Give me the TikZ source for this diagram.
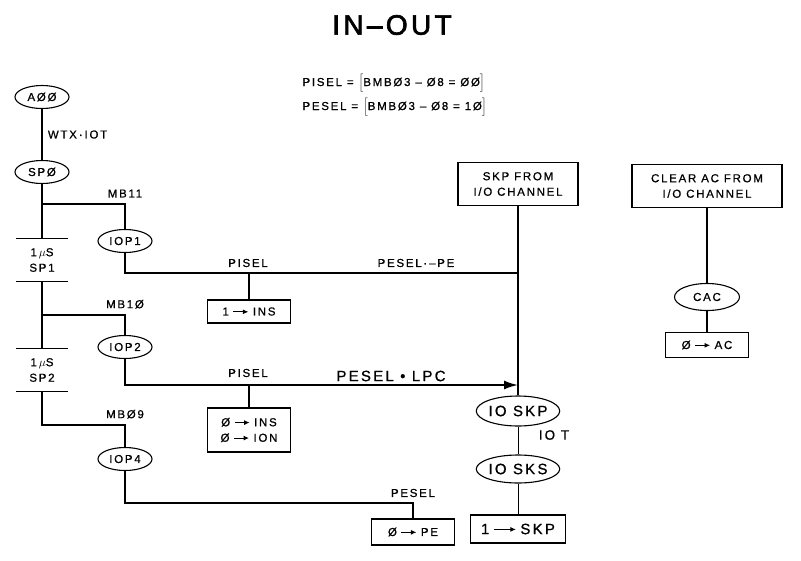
\documentclass[tikz,border=0pt]{standalone}
\usepackage{fontspec}
\setmainfont{Liberation Sans}[LetterSpace=15, FakeBold=0.8]
\usetikzlibrary{shapes.geometric,arrows.meta,positioning}
\newcommand{\toarrow}[1][15pt]{\hspace{4pt}\tikz[baseline=-0.6ex]\draw[-{Latex[length=5.5pt, width=5pt]}, line width=1pt] (0pt,0pt) -- (#1,0pt);\hspace{4pt}}

\begin{document}
\begin{tikzpicture}[x=1pt, y=-1pt,
    font=\fontsize{11.5}{15.5}\selectfont,
    wire/.style={line width=1.8pt},
    thinwire/.style={line width=1pt},
    oval/.style={draw, ellipse, line width=1.1pt, inner sep=0pt, minimum width=54pt, minimum height=23pt},
    opbox/.style={draw, line width=1.1pt, inner sep=0pt, align=center},
    delay/.style={minimum width=52pt, minimum height=43pt, inner sep=0pt, align=center},
    bigtext/.style={font=\fontsize{15}{18}\selectfont}]
    \useasboundingbox (0,0) rectangle (801,560);

    % title and select equations
    \node[font=\fontsize{28}{30}\selectfont\addfontfeature{LetterSpace=12, FakeBold=2.5}] (title) at (392,25) {IN–OUT};
    \node[anchor=west] (eqpisel) at (299,83) {PISEL = $\Bigl[$BMBØ3 – Ø8 = ØØ$\Bigr]$};
    \node[anchor=west] (eqpesel) at (299,107) {PESEL = $\Bigl[$BMBØ3 – Ø8 = 1Ø$\Bigr]$};

    % left column
    \node[oval] (a00) at (42,97) {AØØ};
    \node[oval] (sp0) at (42,172) {SPØ};
    \node[delay] (sp1) at (42,260) {1\,$\mu$S\\SP1};
    \node[delay] (sp2) at (42,370) {1\,$\mu$S\\SP2};
    \node[oval] (iop1) at (125,241) {IOP1};
    \node[oval] (iop2) at (125,347) {IOP2};
    \node[oval] (iop4) at (125,459) {IOP4};

    \draw[wire] (a00) -- node[right, inner sep=5pt] (lbwtx) {WTX\,·\,IOT} (sp0);
    \draw[wire] (sp0) -- (sp1.north);
    \draw[wire] (sp1.south) -- (sp2.north);
    \draw[line width=1.3pt] (sp1.north west) -- (sp1.north east) (sp1.south west) -- (sp1.south east);
    \draw[line width=1.3pt] (sp2.north west) -- (sp2.north east) (sp2.south west) -- (sp2.south east);

    \coordinate (mb11) at (125,204);
    \coordinate (mb10) at (125,315);
    \coordinate (mb09) at (125,425);
    \draw[wire] (mb11 -| sp0) -- (mb11) -- (iop1);
    \draw[wire] (mb10 -| sp1) -- (mb10) -- (iop2);
    \draw[wire] (sp2.south) |- (mb09) -- (iop4);
    \node[above=3pt of mb11] (lbmb11) {MB11};
    \node[above=3pt of mb10] (lbmb10) {MB1Ø};
    \node[above=3pt of mb09] (lbmb09) {MBØ9};

    % skip from i/o channel
    \node[opbox, minimum width=120pt, minimum height=43pt] (skp) at (518,184) {SKP FROM\\I/O CHANNEL};
    \node[oval, bigtext, minimum width=63pt, minimum height=30pt] (skp10) at (518,411) {IO SKP};
    \node[oval, bigtext, minimum width=62pt, minimum height=28pt] (sks10) at (518,469) {IO SKS};
    \node[opbox, bigtext, minimum width=95pt, minimum height=28pt] (skp1) at (518,529) {1\toarrow[22pt]SKP};
    \node[font=\fontsize{13.5}{16}\selectfont] (lbiot) at (554,435) {IO T};
    \draw[wire] (skp) -- (skp10);
    \draw[thinwire] (skp10) -- (sks10);
    \draw[thinwire] (sks10) -- (skp1);

    % iop outputs
    \coordinate (pisel1) at (249,273);
    \coordinate (pisel2) at (249,385);
    \coordinate (pesel3) at (413,503);
    \node[opbox, minimum width=83pt, minimum height=23pt] (ins1) at (249,311.5) {1\toarrow INS};
    \node[opbox, minimum width=83pt, minimum height=44pt] (ins0) at (249,430) {Ø\toarrow INS\\Ø\toarrow ION};
    \node[opbox, minimum width=83pt, minimum height=26pt] (pe0) at (413,532) {Ø\toarrow PE};

    \draw[wire] (iop1) |- (pisel1 -| skp);
    \draw[wire] (pisel1) -- (ins1);
    \node (lbpisel1) at (248,263) {PISEL};
    \node (lbpeselpe) at (416,263) {PESEL·\,–PE};

    \draw[wire, -{Latex[length=14pt, width=9pt]}] (iop2) |- (pisel2 -| skp);
    \draw[wire] (pisel2) -- (ins0);
    \node (lbpisel2) at (248,373) {PISEL};
    \node[bigtext] (lbpesellpc) at (391,376) {PESEL • LPC};

    \draw[wire] (iop4) |- (pesel3) -- (pe0);
    \node (lbpesel3) at (413,493) {PESEL};

    % clear ac from i/o channel
    \node[opbox, minimum width=150pt, minimum height=43pt] (clr) at (707,186) {CLEAR AC FROM\\I/O CHANNEL};
    \node[oval, minimum width=65pt, minimum height=27pt] (cac) at (707,297) {CAC};
    \node[opbox, minimum width=83pt, minimum height=25pt] (ac0) at (707,345) {Ø\toarrow AC};
    \draw[wire] (clr) -- (cac) -- (ac0);
\end{tikzpicture}
\end{document}
